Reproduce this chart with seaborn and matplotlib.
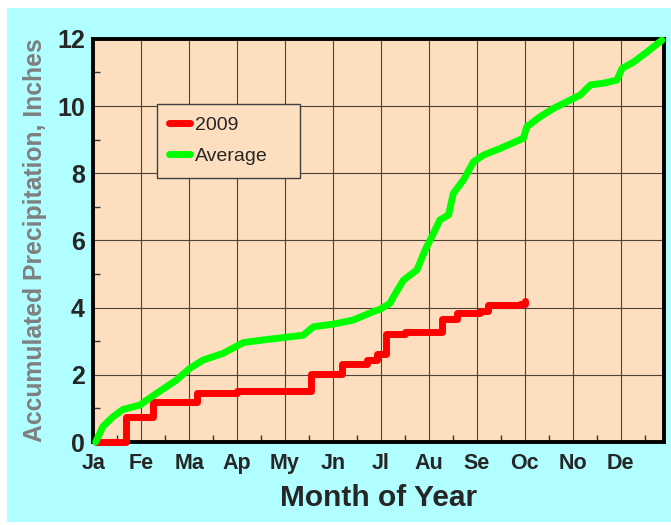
import matplotlib.pyplot as plt
import pandas as pd
import numpy as np
import seaborn as sns
from matplotlib.patches import Rectangle
from matplotlib.ticker import MultipleLocator

sns.set_style("ticks")
plt.rcParams['font.family'] = ['Liberation Sans', 'DejaVu Sans']

# month labels (one grid column per month)
months = ['Ja', 'Fe', 'Ma', 'Ap', 'My', 'Jn', 'Jl', 'Au', 'Se', 'Oc', 'No', 'De']

# 2009 accumulated precipitation, change points (month position, inches)
x_2009 = [0.05, 0.69, 1.25, 2.17, 3.00, 4.55, 5.18, 5.70, 5.91, 6.11, 6.50,
          7.27, 7.58, 8.07, 8.24, 8.90, 9.01]
y_2009 = [0.00, 0.75, 1.20, 1.47, 1.52, 2.04, 2.31, 2.44, 2.62, 3.21, 3.28,
          3.65, 3.83, 3.91, 4.08, 4.12, 4.20]

# long-term average accumulated precipitation
x_avg = [0.05, 0.20, 0.41, 0.62, 0.97, 1.32, 1.74, 2.01, 2.29, 2.71, 3.13,
         3.55, 4.03, 4.38, 4.59, 5.01, 5.42, 5.84, 5.98, 6.19, 6.26, 6.47,
         6.75, 6.92, 7.06, 7.23, 7.41, 7.51, 7.72, 7.93, 8.14, 8.49, 8.97,
         9.04, 9.32, 9.60, 9.95, 10.16, 10.37, 10.64, 10.92, 11.03, 11.27,
         11.55, 11.86]
y_avg = [0.00, 0.46, 0.75, 0.97, 1.10, 1.45, 1.85, 2.19, 2.44, 2.64, 2.96,
         3.04, 3.12, 3.18, 3.43, 3.51, 3.63, 3.88, 3.95, 4.13, 4.32, 4.82,
         5.12, 5.71, 6.11, 6.61, 6.76, 7.40, 7.80, 8.34, 8.54, 8.74, 9.04,
         9.38, 9.68, 9.93, 10.18, 10.33, 10.63, 10.68, 10.77, 11.12, 11.31,
         11.61, 11.96]

fig = plt.figure(figsize=(6.71, 5.25), dpi=100, facecolor='white')
# cyan panel behind the chart (white margin on top/left/bottom)
fig.patches.append(Rectangle((7 / 671, 3 / 525), 664 / 671, 514 / 525,
                             transform=fig.transFigure, facecolor='#B0FEFF',
                             edgecolor='none', zorder=-10))
ax = fig.add_axes([0.139, 0.158, 0.851, 0.768])
ax.set_zorder(5)
ax.set_facecolor('#FDDFC0')

sns.lineplot(x=x_2009, y=y_2009, ax=ax, color='#FF0000', linewidth=5,
             drawstyle='steps-post', solid_capstyle='round',
             estimator=None, sort=False, label='2009',
             clip_on=False, zorder=4)
sns.lineplot(x=x_avg, y=y_avg, ax=ax, color='#00FF00', linewidth=5,
             solid_capstyle='round', estimator=None, sort=False,
             label='Average', clip_on=False, zorder=4)

ax.set_xlim(0, 11.91)
ax.set_ylim(0, 12)
ax.set_xticks(range(12))
ax.set_xticklabels(months)
ax.set_yticks(range(0, 13, 2))
ax.xaxis.set_minor_locator(MultipleLocator(0.5))
ax.yaxis.set_minor_locator(MultipleLocator(1))
ax.tick_params(which='major', length=0)
ax.tick_params(axis='x', which='major', labelsize=15.5, pad=8)
ax.tick_params(axis='y', which='major', labelsize=18, pad=6)
ax.tick_params(which='minor', direction='in', length=5, width=1, color='#333333')
ax.tick_params(axis='x', which='minor', top=False)
ax.tick_params(axis='y', which='minor', right=False)
for lab in ax.get_xticklabels() + ax.get_yticklabels():
    lab.set_fontweight('bold')

ax.grid(True, which='major', color='#4f4038', linewidth=0.8)
ax.set_axisbelow(True)
for side in ['left', 'right', 'top', 'bottom']:
    ax.spines[side].set_visible(True)
    ax.spines[side].set_color('black')
    ax.spines[side].set_linewidth(2.8)

ax.set_xlabel('Month of Year', fontsize=21.5, fontweight='bold', labelpad=7)
ax.set_ylabel('Accumulated Precipitation, Inches', fontsize=17.8,
              fontweight='bold', color='#7f7f7f', labelpad=7)

leg = ax.legend(loc='upper left', bbox_to_anchor=(0.111, 0.739, 0.251, 0.1),
                mode='expand', borderaxespad=0, fontsize=14, frameon=True,
                fancybox=False, framealpha=1, facecolor='#FDDFC0',
                edgecolor='#404040', handlelength=1.05,
                handletextpad=0.25, labelspacing=0.7, borderpad=0.65)
leg.get_frame().set_linewidth(1.0)
for h in leg.get_lines():
    h.set_linewidth(5)
    h.set_solid_capstyle('round')

fig.savefig('out.png', dpi=100, facecolor=fig.get_facecolor())
